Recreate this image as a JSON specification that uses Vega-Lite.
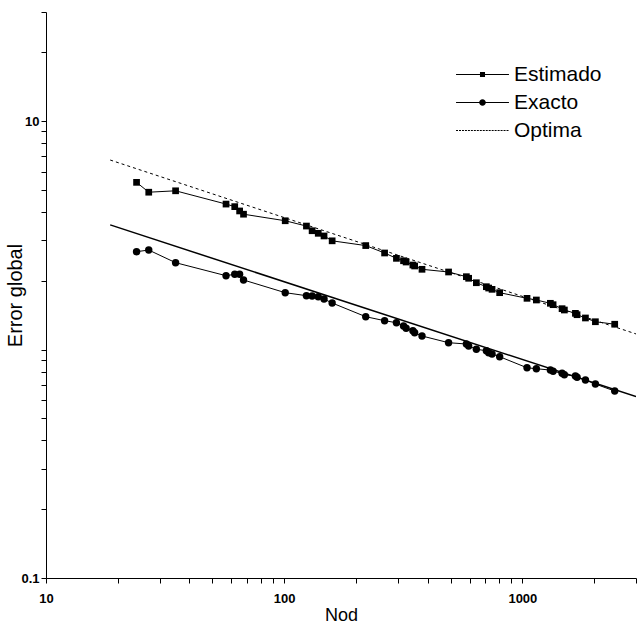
{
  "$schema": "https://vega.github.io/schema/vega-lite/v6.json",
  "width": 590,
  "height": 566,
  "autosize": {"type": "none"},
  "padding": {"left": 46, "top": 12, "right": 3, "bottom": 50},
  "background": "white",
  "config": {
    "view": {"stroke": null},
    "font": "Liberation Sans",
    "axis": {"grid": false, "ticks": true, "domainColor": "black", "tickColor": "black", "labelColor": "black", "titleColor": "black", "tickWidth": 1, "domainWidth": 1}
  },
  "datasets": {
    "curves": [
      {"Nod": 24, "Error": 5.39, "serie": "Estimado"},
      {"Nod": 27, "Error": 4.88, "serie": "Estimado"},
      {"Nod": 35, "Error": 4.95, "serie": "Estimado"},
      {"Nod": 57, "Error": 4.33, "serie": "Estimado"},
      {"Nod": 62, "Error": 4.22, "serie": "Estimado"},
      {"Nod": 65, "Error": 4.04, "serie": "Estimado"},
      {"Nod": 67.5, "Error": 3.91, "serie": "Estimado"},
      {"Nod": 101, "Error": 3.66, "serie": "Estimado"},
      {"Nod": 124, "Error": 3.47, "serie": "Estimado"},
      {"Nod": 131, "Error": 3.31, "serie": "Estimado"},
      {"Nod": 139, "Error": 3.225, "serie": "Estimado"},
      {"Nod": 147, "Error": 3.14, "serie": "Estimado"},
      {"Nod": 159, "Error": 2.99, "serie": "Estimado"},
      {"Nod": 220, "Error": 2.85, "serie": "Estimado"},
      {"Nod": 264, "Error": 2.645, "serie": "Estimado"},
      {"Nod": 296, "Error": 2.506, "serie": "Estimado"},
      {"Nod": 317, "Error": 2.446, "serie": "Estimado"},
      {"Nod": 325, "Error": 2.415, "serie": "Estimado"},
      {"Nod": 347, "Error": 2.343, "serie": "Estimado"},
      {"Nod": 353, "Error": 2.32, "serie": "Estimado"},
      {"Nod": 379, "Error": 2.244, "serie": "Estimado"},
      {"Nod": 490, "Error": 2.184, "serie": "Estimado"},
      {"Nod": 582, "Error": 2.083, "serie": "Estimado"},
      {"Nod": 595, "Error": 2.05, "serie": "Estimado"},
      {"Nod": 641, "Error": 1.96, "serie": "Estimado"},
      {"Nod": 706, "Error": 1.883, "serie": "Estimado"},
      {"Nod": 722, "Error": 1.858, "serie": "Estimado"},
      {"Nod": 746, "Error": 1.834, "serie": "Estimado"},
      {"Nod": 803, "Error": 1.773, "serie": "Estimado"},
      {"Nod": 1046, "Error": 1.675, "serie": "Estimado"},
      {"Nod": 1145, "Error": 1.647, "serie": "Estimado"},
      {"Nod": 1311, "Error": 1.593, "serie": "Estimado"},
      {"Nod": 1346, "Error": 1.571, "serie": "Estimado"},
      {"Nod": 1468, "Error": 1.509, "serie": "Estimado"},
      {"Nod": 1501, "Error": 1.489, "serie": "Estimado"},
      {"Nod": 1670, "Error": 1.44, "serie": "Estimado"},
      {"Nod": 1697, "Error": 1.42, "serie": "Estimado"},
      {"Nod": 1840, "Error": 1.374, "serie": "Estimado"},
      {"Nod": 2026, "Error": 1.323, "serie": "Estimado"},
      {"Nod": 2442, "Error": 1.29, "serie": "Estimado"},
      {"Nod": 24, "Error": 2.68, "serie": "Exacto"},
      {"Nod": 27, "Error": 2.725, "serie": "Exacto"},
      {"Nod": 35, "Error": 2.399, "serie": "Exacto"},
      {"Nod": 57, "Error": 2.104, "serie": "Exacto"},
      {"Nod": 62, "Error": 2.134, "serie": "Exacto"},
      {"Nod": 65, "Error": 2.134, "serie": "Exacto"},
      {"Nod": 67.5, "Error": 2.015, "serie": "Exacto"},
      {"Nod": 101, "Error": 1.773, "serie": "Exacto"},
      {"Nod": 124, "Error": 1.72, "serie": "Exacto"},
      {"Nod": 131, "Error": 1.714, "serie": "Exacto"},
      {"Nod": 139, "Error": 1.702, "serie": "Exacto"},
      {"Nod": 147, "Error": 1.663, "serie": "Exacto"},
      {"Nod": 159, "Error": 1.598, "serie": "Exacto"},
      {"Nod": 220, "Error": 1.392, "serie": "Exacto"},
      {"Nod": 264, "Error": 1.337, "serie": "Exacto"},
      {"Nod": 296, "Error": 1.31, "serie": "Exacto"},
      {"Nod": 317, "Error": 1.267, "serie": "Exacto"},
      {"Nod": 325, "Error": 1.238, "serie": "Exacto"},
      {"Nod": 347, "Error": 1.209, "serie": "Exacto"},
      {"Nod": 353, "Error": 1.184, "serie": "Exacto"},
      {"Nod": 379, "Error": 1.146, "serie": "Exacto"},
      {"Nod": 490, "Error": 1.071, "serie": "Exacto"},
      {"Nod": 582, "Error": 1.057, "serie": "Exacto"},
      {"Nod": 595, "Error": 1.036, "serie": "Exacto"},
      {"Nod": 641, "Error": 1.002, "serie": "Exacto"},
      {"Nod": 706, "Error": 0.988, "serie": "Exacto"},
      {"Nod": 722, "Error": 0.968, "serie": "Exacto"},
      {"Nod": 746, "Error": 0.956, "serie": "Exacto"},
      {"Nod": 803, "Error": 0.93, "serie": "Exacto"},
      {"Nod": 1046, "Error": 0.832, "serie": "Exacto"},
      {"Nod": 1145, "Error": 0.824, "serie": "Exacto"},
      {"Nod": 1311, "Error": 0.813, "serie": "Exacto"},
      {"Nod": 1346, "Error": 0.803, "serie": "Exacto"},
      {"Nod": 1468, "Error": 0.787, "serie": "Exacto"},
      {"Nod": 1501, "Error": 0.776, "serie": "Exacto"},
      {"Nod": 1670, "Error": 0.766, "serie": "Exacto"},
      {"Nod": 1697, "Error": 0.756, "serie": "Exacto"},
      {"Nod": 1840, "Error": 0.736, "serie": "Exacto"},
      {"Nod": 2026, "Error": 0.706, "serie": "Exacto"},
      {"Nod": 2442, "Error": 0.658, "serie": "Exacto"}
    ],
    "lines": [
      {"Nod": 18.6, "Error": 6.75, "linea": "Optima"},
      {"Nod": 3000, "Error": 1.17, "linea": "Optima"},
      {"Nod": 18.6, "Error": 3.51, "linea": "Referencia"},
      {"Nod": 3000, "Error": 0.622, "linea": "Referencia"}
    ]
  },
  "layer": [
    {
      "data": {"name": "curves"},
      "mark": {"type": "line", "color": "black", "strokeWidth": 1},
      "encoding": {
        "x": {"field": "Nod", "type": "quantitative",
              "scale": {"type": "log", "domain": [10, 3000], "nice": false},
              "axis": {"orient": "bottom",
                       "values": [10, 20, 30, 40, 50, 60, 70, 80, 90, 100, 200, 300, 400, 500, 600, 700, 800, 900, 1000, 2000, 3000],
                       "labelExpr": "datum.value == 10 || datum.value == 100 || datum.value == 1000 ? format(datum.value, 'd') : ''",
                       "title": "Nod",
                       "tickSize": 5,
                       "labelPadding": 9, "labelFontSize": 13, "labelFontWeight": "bold",
                       "labelFont": "Liberation Sans", "labelFlush": false, "labelOverlap": false,
                       "titleFontSize": 18, "titleFontWeight": "normal", "titleFont": "Liberation Sans", "titleY": 28}},
        "y": {"field": "Error", "type": "quantitative",
              "scale": {"type": "log", "domain": [0.1, 30], "nice": false},
              "axis": {"orient": "left",
                       "values": [0.1, 0.2, 0.3, 0.4, 0.5, 0.6, 0.7, 0.8, 0.9, 1, 2, 3, 4, 5, 6, 7, 8, 9, 10, 20, 30],
                       "labelExpr": "datum.value == 10 ? '10' : datum.value == 0.1 ? '0.1' : ''",
                       "title": "Error global",
                       "tickSize": 5,
                       "labelPadding": 2, "labelFontSize": 13,
                       "labelFontWeight": "bold", "labelFont": "Liberation Sans", "labelFlush": false, "labelOverlap": false,
                       "titleFontSize": 20, "titleFontWeight": "normal", "titleFont": "Liberation Sans", "titleX": -21}},
        "detail": {"field": "serie"}
      }
    },
    {
      "data": {"name": "curves"},
      "transform": [{"filter": "datum.serie == 'Estimado'"}],
      "mark": {"type": "square", "color": "black", "filled": true, "opacity": 1, "size": 45},
      "encoding": {
        "x": {"field": "Nod", "type": "quantitative"},
        "y": {"field": "Error", "type": "quantitative"}
      }
    },
    {
      "data": {"name": "curves"},
      "transform": [{"filter": "datum.serie == 'Exacto'"}],
      "mark": {"type": "circle", "color": "black", "opacity": 1, "size": 55},
      "encoding": {
        "x": {"field": "Nod", "type": "quantitative"},
        "y": {"field": "Error", "type": "quantitative"}
      }
    },
    {
      "data": {"name": "lines"},
      "transform": [{"filter": "datum.linea == 'Optima'"}],
      "mark": {"type": "line", "color": "black", "strokeWidth": 1, "strokeDash": [3, 3], "clip": true},
      "encoding": {
        "x": {"field": "Nod", "type": "quantitative"},
        "y": {"field": "Error", "type": "quantitative"}
      }
    },
    {
      "data": {"name": "lines"},
      "transform": [{"filter": "datum.linea == 'Referencia'"}],
      "mark": {"type": "line", "color": "black", "strokeWidth": 1.5, "clip": true},
      "encoding": {
        "x": {"field": "Nod", "type": "quantitative"},
        "y": {"field": "Error", "type": "quantitative"}
      }
    },
    {
      "data": {"name": "curves"},
      "mark": {"type": "point", "color": "black", "filled": true, "opacity": 0},
      "encoding": {
        "x": {"field": "Nod", "type": "quantitative"},
        "y": {"field": "Error", "type": "quantitative"},
        "shape": {"field": "serie", "type": "nominal",
                  "scale": {"domain": ["Estimado", "Exacto", "Optima"],
                            "range": [
                              "M-2.94,-0.055H2.94V0.055H-2.94ZM-0.28,-0.28H0.28V0.28H-0.28Z",
                              "M-2.94,-0.055H2.94V0.055H-2.94ZM0.37,0A0.37,0.37,0,1,1,-0.37,0A0.37,0.37,0,1,1,0.37,0Z",
                              "M-2.94,-0.055H-2.72V0.055H-2.94ZM-2.61,-0.055H-2.39V0.055H-2.61ZM-2.28,-0.055H-2.06V0.055H-2.28ZM-1.95,-0.055H-1.73V0.055H-1.95ZM-1.62,-0.055H-1.4V0.055H-1.62ZM-1.29,-0.055H-1.07V0.055H-1.29ZM-0.96,-0.055H-0.74V0.055H-0.96ZM-0.63,-0.055H-0.41V0.055H-0.63ZM-0.3,-0.055H-0.08V0.055H-0.3ZM0.03,-0.055H0.25V0.055H0.03ZM0.36,-0.055H0.58V0.055H0.36ZM0.69,-0.055H0.91V0.055H0.69ZM1.02,-0.055H1.24V0.055H1.02ZM1.35,-0.055H1.57V0.055H1.35ZM1.68,-0.055H1.9V0.055H1.68ZM2.01,-0.055H2.23V0.055H2.01ZM2.34,-0.055H2.56V0.055H2.34ZM2.67,-0.055H2.89V0.055H2.67Z"
                            ]},
                  "legend": {"title": null, "orient": "none", "legendX": 409, "legendY": 52,
                             "padding": 0, "offset": 0,
                             "symbolSize": 324, "symbolOpacity": 1, "symbolFillColor": "black",
                             "symbolStrokeColor": "black", "symbolStrokeWidth": 0,
                             "symbolOffset": 17, "labelOffset": 21,
                             "labelFontSize": 21, "labelFont": "Liberation Sans", "labelColor": "black",
                             "rowPadding": 6,
                             "encode": {"symbols": {"update": {
                               "fill": {"value": "black"},
                               "fillOpacity": {"value": 1},
                               "opacity": {"value": 1}}}}}}
      }
    }
  ]
}
